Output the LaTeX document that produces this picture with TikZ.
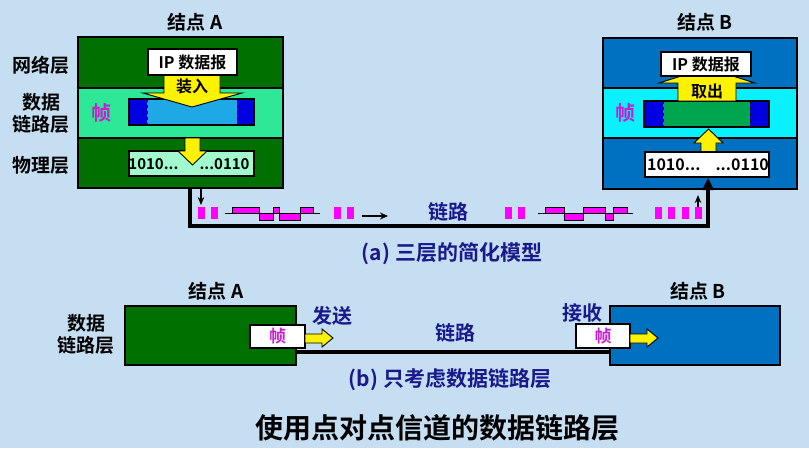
\documentclass[tikz,border=0pt]{standalone}
\usepackage{fontspec}
\setmainfont{Noto Sans CJK SC}[BoldFont={* Bold}]
\usetikzlibrary{arrows.meta}
\definecolor{bg}{RGB}{197,222,242}
\definecolor{dgreen}{RGB}{0,112,0}
\definecolor{mint}{RGB}{45,232,150}
\definecolor{aqua}{RGB}{160,250,205}
\definecolor{fblue}{RGB}{30,168,230}
\definecolor{dblue}{RGB}{0,0,225}
\definecolor{bblue}{RGB}{0,112,192}
\definecolor{cyanband}{RGB}{10,240,252}
\definecolor{fgreen}{RGB}{0,165,80}
\definecolor{navy}{RGB}{25,25,140}
\definecolor{mag}{RGB}{200,30,210}
\definecolor{bitmag}{RGB}{255,0,255}
\tikzset{
  fnt/.style={font=\bfseries\fontsize{#1}{#1}\selectfont},
  lab/.style={fnt=19, inner sep=0},
  boxn/.style={draw=black, line width=1.4pt, anchor=north west, inner sep=0, outer sep=0},
  yarr/.style={fill=yellow, draw=black, line width=0.9pt, line join=miter},
  bit/.style={fill=bitmag},
  sig/.style={fill=bitmag, draw=black, line width=0.8pt},
  link/.style={line width=3.6pt, line cap=butt},
  thinarr/.style={line width=1.3pt, -{Stealth[length=8pt,width=6.5pt]}},
}
\begin{document}
\begin{tikzpicture}[x=1pt,y=-1pt]
\fill[bg] (0,0) rectangle (809,448);
\useasboundingbox (0,0) rectangle (809,448);

% ---------- (a) node A ----------
\node[boxn, fill=dgreen, minimum width=205, minimum height=151] (A) at (78,37) {};
\draw[fill=mint, line width=1.2pt] (78,88) rectangle (283,138);
\draw[line width=1.4pt] (78,37) rectangle (283,188);
% frame A
\fill[fblue] (129,99) rectangle (254,125);
\fill[dblue] (129,99) rectangle (147,125);
\fill[dblue] (237,99) rectangle (254,125);
\draw[dashed, line width=1pt] (147,99) -- (147,125);
\draw[dashed, line width=1pt] (237,99) -- (237,125);
\draw[line width=1.2pt] (129,99) rectangle (254,125);
% arrow load
\draw[yarr] (164,75) -- (164,93) -- (143,93) -- (192,107) -- (242,93) -- (220,93) -- (220,75) -- cycle;
\node[fnt=16, text=black] (zr) at (192,86) {装入};
\node[boxn, fill=white, minimum width=89, minimum height=26, line width=1.2pt] (ipA) at (148,49) {};
\node[fnt=16] at (ipA.center) {IP 数据报};
% physical A
\node[boxn, fill=aqua, minimum width=125, minimum height=25, line width=1.2pt] (phA) at (129,151) {};
\draw[yarr] (185,138) -- (185,151) -- (178,151) -- (192.5,165) -- (207,151) -- (200,151) -- (200,138) -- cycle;
\node[fnt=15, anchor=east] (bA1) at (182,164) {1010...};
\node[fnt=15, anchor=west] (bA2) at (196,164) {...0110};
% labels A
\node[lab] (wl) at (41,65) {网络层};
\node[lab] (sj) at (41,102) {数据};
\node[lab] (ll) at (41,124) {链路层};
\node[lab] (wcl) at (41,165) {物理层};
\node[fnt=20, inner sep=0, text=mag] (zA) at (101,113) {帧};
\node[lab] (tA) at (195,22) {结点 A};

% ---------- (a) node B ----------
\node[boxn, fill=bblue, minimum width=194, minimum height=151] (B) at (603,38) {};
\draw[fill=cyanband, line width=1.2pt] (603,88) rectangle (797,138);
\draw[line width=1.4pt] (603,38) rectangle (797,189);
% frame B
\fill[fgreen] (644,101) rectangle (769,127);
\fill[dblue] (644,101) rectangle (663,127);
\fill[dblue] (750,101) rectangle (769,127);
\draw[dashed, line width=1pt] (663,101) -- (663,127);
\draw[dashed, line width=1pt] (750,101) -- (750,127);
\draw[line width=1.2pt] (644,101) rectangle (769,127);
% arrow take out
\draw[yarr] (678,101) -- (678,83) -- (659,83) -- (707,68) -- (755,83) -- (736,83) -- (736,101) -- cycle;
\node[fnt=16] (qc) at (707,91) {取出};
\node[boxn, fill=white, minimum width=90, minimum height=24, line width=1.2pt] (ipB) at (661,52) {};
\node[fnt=16] at (ipB.center) {IP 数据报};
% physical B
\draw[yarr] (701,152) -- (701,143) -- (694,143) -- (708.5,129) -- (723,143) -- (716,143) -- (716,152) -- cycle;
\node[boxn, fill=white, minimum width=124, minimum height=25, line width=1.2pt] (phB) at (645,152) {};
\node[fnt=16, anchor=east] (bB1) at (704,165) {1010...};
\node[fnt=16, anchor=west] (bB2) at (712,165) {...0110};
\node[fnt=20, inner sep=0, text=mag] (zB) at (625,113) {帧};
\node[lab] (tB) at (705,22) {结点 B};

% ---------- (a) link ----------
\coordinate (la) at (190,226);
\coordinate (lb) at (708,226);
\draw[link] (la |- A.south) -- (la) -- (lb) -- ([yshift=-1pt]lb |- B.south);
\fill (lb |- B.south) ++(-6,1) -- ++(6,-12) -- ++(6,12) -- cycle;
\coordinate (sa) at (201,205);
\draw[thinarr] (sa |- A.south) -- (sa);
\coordinate (sb) at (698,207);
\draw[thinarr] (sb) -- ([yshift=-6pt]sb |- B.south);
% bits
\foreach \x in {198,211,334,347,505,518,655,668,682,695}
  \fill[bit] (\x,207) rectangle ++(7,12);
% signal A
\draw[line width=1pt] (225,213) -- (320,213);
\draw[sig] (232,207) rectangle (259,213);
\draw[sig] (259,213) rectangle (273,220);
\draw[sig] (273,207) rectangle (279,213);
\draw[sig] (279,213) rectangle (300,220);
\draw[sig] (300,207) rectangle (313,213);
% signal B
\draw[line width=1pt] (538,213) -- (633,213);
\draw[sig] (545,207) rectangle (564,213);
\draw[sig] (564,213) rectangle (583,220);
\draw[sig] (583,207) rectangle (605,213);
\draw[sig] (605,213) rectangle (613,220);
\draw[sig] (613,207) rectangle (627,213);
% flow arrow
\coordinate (fa) at (362,216);
\coordinate (fb) at (388,216);
\draw[line width=1.5pt, -{Stealth[length=8pt,width=7pt]}] (fa) -- (fb);
\node[fnt=20, text=navy] (lk) at (448,212) {链路};
\node[fnt=21, text=navy] (capA) at (452,254) {(a) 三层的简化模型};

% ---------- (b) ----------
\node[lab] (tA2) at (216,291) {结点 A};
\node[boxn, fill=dgreen, minimum width=171, minimum height=59] (A2) at (125,306) {};
\node[lab] (sj2) at (86,323) {数据};
\node[lab] (ll2) at (86,345) {链路层};
\node[boxn, fill=white, minimum width=55, minimum height=23, line width=1.2pt] (fA) at (250,325) {};
\node[fnt=17, text=mag] at (fA.center) {帧};
\draw[yarr] (fA.east |- 0,334) -- (322,334) -- (322,329) -- (333,338) -- (322,347) -- (322,343) -- (fA.east |- 0,343) -- cycle;
\node[fnt=20, text=navy] (fs) at (332,316) {发送};

\node[lab] (tB2) at (698,291) {结点 B};
\node[boxn, fill=bblue, minimum width=170, minimum height=59] (B2) at (610,306) {};
\draw[link] (A2.east |- 0,352) -- (B2.west |- 0,352);
\node[boxn, fill=white, minimum width=54, minimum height=24, line width=1.2pt] (fB) at (576,324) {};
\node[fnt=17, text=mag] at (fB.center) {帧};
\draw[yarr] (fB.east |- 0,334) -- (647,334) -- (647,329) -- (658,338) -- (647,347) -- (647,343) -- (fB.east |- 0,343) -- cycle;
\node[fnt=20, text=navy] (js) at (582,313) {接收};
\node[fnt=20, text=navy] (lk2) at (455,333) {链路};
\node[fnt=21, text=navy] (capB) at (450,380) {(b) 只考虑数据链路层};

\node[fnt=28] (title) at (437,428) {使用点对点信道的数据链路层};
\end{tikzpicture}
\end{document}
